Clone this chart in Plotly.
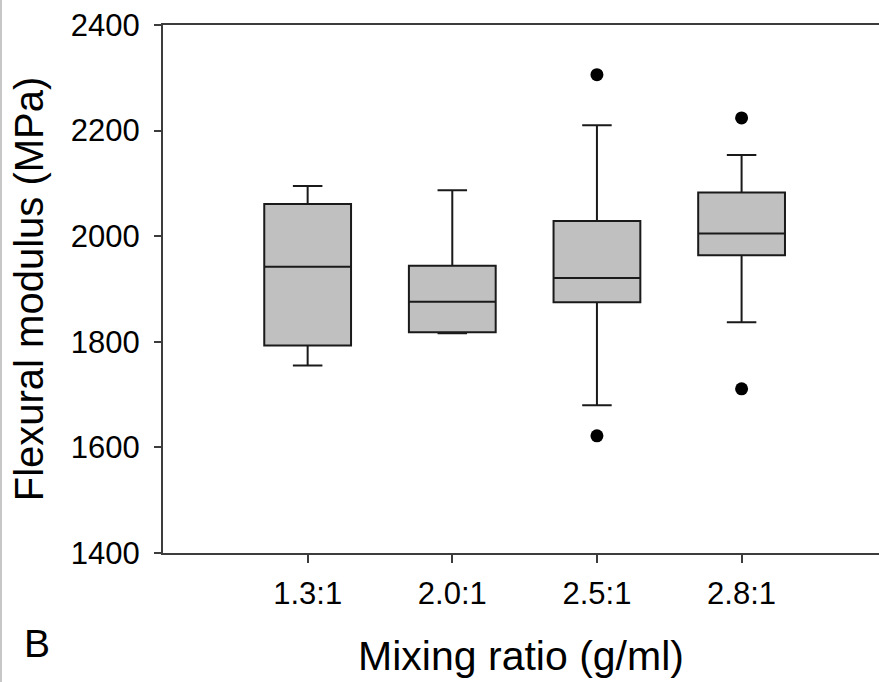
import plotly.graph_objects as go

# Flexural modulus box statistics per mixing ratio (MPa)
ratios = ["1.3:1", "2.0:1", "2.5:1", "2.8:1"]
lower_whisker = [1755, 1816, 1680, 1837]
q1 = [1793, 1818, 1875, 1964]
median = [1942, 1876, 1921, 2005]
q3 = [2061, 1944, 2029, 2083]
upper_whisker = [2095, 2087, 2210, 2154]

# Outlying specimens
outlier_ratio = ["2.5:1", "2.5:1", "2.8:1", "2.8:1"]
outlier_value = [2306, 1622, 2224, 1711]

y_ticks = [1400, 1600, 1800, 2000, 2200, 2400]

FONT = "Liberation Sans, Arial, sans-serif"
INK = "#1a1a1a"
AXIS = "#3c3c3c"

# plot area in pixels: left 163, top 25, width 716, height 528
PW, PH, ML, MB = 716, 528, 163, 129

fig = go.Figure()

fig.add_trace(go.Box(
    x=ratios,
    q1=q1,
    median=median,
    q3=q3,
    lowerfence=lower_whisker,
    upperfence=upper_whisker,
    boxpoints=False,
    width=0.6,
    whiskerwidth=0.34,
    fillcolor="#c0c0c0",
    line=dict(color=INK, width=2),
    showlegend=False,
    hoverinfo="skip",
))

fig.add_trace(go.Scatter(
    x=outlier_ratio,
    y=outlier_value,
    mode="markers",
    marker=dict(color="black", size=13, line=dict(width=0)),
    showlegend=False,
    hoverinfo="skip",
))

fig.update_layout(
    width=879,
    height=682,
    autosize=False,
    margin=dict(l=ML, r=0, t=25, b=MB),
    paper_bgcolor="white",
    plot_bgcolor="white",
    font=dict(family=FONT, color="black"),
    xaxis=dict(
        type="category",
        categoryorder="array",
        categoryarray=ratios,
        range=[-1, 3.95],
        showline=True,
        linecolor=AXIS,
        linewidth=2,
        mirror=True,
        ticks="outside",
        ticklen=8,
        tickwidth=2,
        tickcolor=AXIS,
        tickfont=dict(size=31, family=FONT, color="black"),
        ticklabelstandoff=4,
        showgrid=False,
        zeroline=False,
        title=dict(text="Mixing ratio (g/ml)", font=dict(size=41, family=FONT, color="black"), standoff=31),
    ),
    yaxis=dict(
        range=[1400, 2400],
        tickvals=y_ticks,
        showline=True,
        linecolor=AXIS,
        linewidth=2,
        ticks="outside",
        ticklen=7,
        tickwidth=2,
        tickcolor=AXIS,
        tickfont=dict(size=31, family=FONT, color="black"),
        ticklabelstandoff=8,
        showgrid=False,
        zeroline=False,
        title=dict(text="Flexural modulus (MPa)", font=dict(size=40, family=FONT, color="black"), standoff=15),
    ),
    annotations=[
        dict(
            text="B",
            xref="paper", yref="paper",
            x=(22 - ML) / PW, y=-90 / PH,
            xanchor="left", yanchor="middle",
            showarrow=False,
            font=dict(size=39, family=FONT, color="black"),
        )
    ],
    shapes=[
        dict(
            type="line",
            xref="paper", yref="paper",
            x0=(1 - ML) / PW, x1=(1 - ML) / PW, y0=-MB / PH, y1=1 + 25 / PH,
            line=dict(color="#b4b4b4", width=1.5),
        )
    ],
)

fig.write_html("out.html")
